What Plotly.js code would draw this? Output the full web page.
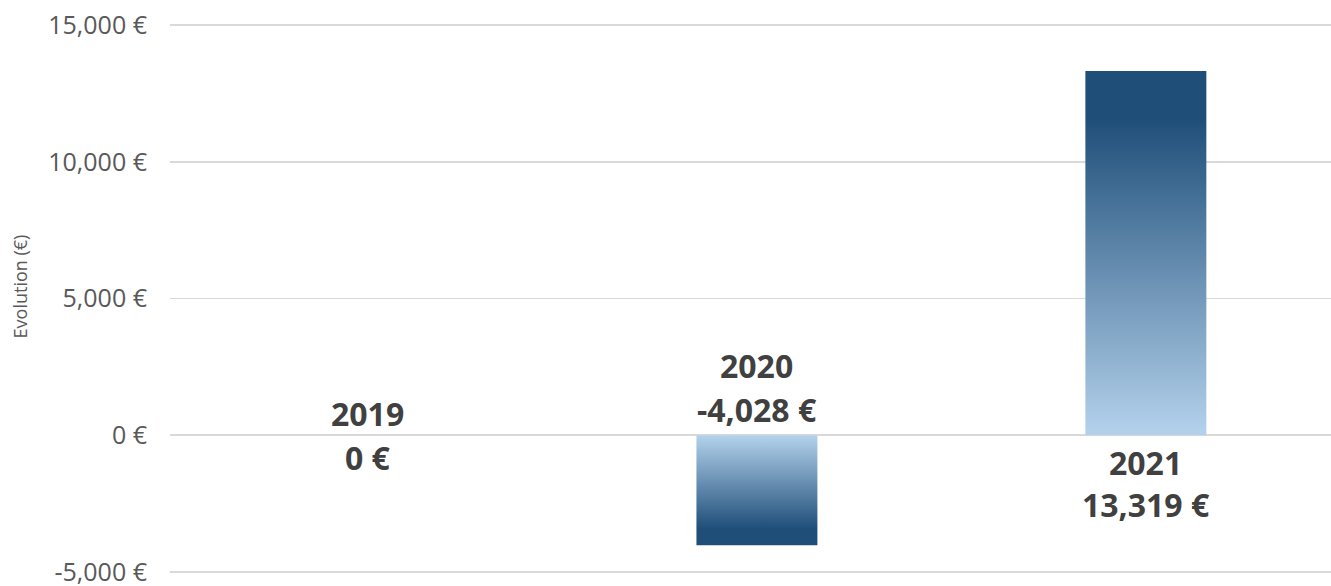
<!DOCTYPE html>
<html>
<head>
<meta charset="utf-8">
<script src="https://cdn.plot.ly/plotly-3.0.1.min.js"></script>
<style>
  html, body { margin: 0; padding: 0; background: #ffffff; }
  #chart { width: 1331px; height: 586px; }
</style>
</head>
<body>
<div id="chart"></div>
<script>
// ---- data ----
const years = ['2019', '2020', '2021'];
const values = [0, -4028, 13319];
const valueLabels = ['0 €', '-4,028 €', '13,319 €'];
const yTickVals = [-5000, 0, 5000, 10000, 15000];
const yTickText = ['-5,000 €', '0 €', '5,000 €', '10,000 €', '15,000 €'];
const yAxisTitle = 'Evolution (€)';

// ---- styles ----
const FONT = '"Open Sans", "Noto Sans", sans-serif';
const DARK = '#1F4E79';
const LIGHT = '#B4D2EC';

const trace = {
  type: 'bar',
  x: years,
  y: values,
  width: 0.311,
  marker: { color: DARK, line: { width: 0 } },
  hoverinfo: 'skip'
};

// label offsets (px, positive = up) depending on sign of value
function offsets(v) {
  if (v > 0) return [-27, -69];
  if (v < 0) return [70, 26];
  return [22, -22];
}

const annotations = [];
years.forEach((yr, i) => {
  const off = offsets(values[i]);
  const texts = [yr, valueLabels[i]];
  texts.forEach((txt, k) => {
    annotations.push({
      x: i, y: 0, xref: 'x', yref: 'y',
      text: '<b>' + txt + '</b>',
      showarrow: false,
      xanchor: 'center', yanchor: 'middle',
      yshift: off[k],
      font: { family: FONT, size: 32, color: '#404040' }
    });
  });
});

const layout = {
  width: 1331,
  height: 586,
  margin: { l: 170, r: 0, t: 24, b: 13, pad: 0 },
  paper_bgcolor: '#ffffff',
  plot_bgcolor: '#ffffff',
  showlegend: false,
  xaxis: {
    type: 'category',
    categoryorder: 'array',
    categoryarray: years,
    range: [-0.509, 2.476],
    showticklabels: false,
    showgrid: false,
    zeroline: false,
    showline: false,
    ticks: ''
  },
  yaxis: {
    range: [-5040, 15040],
    tickvals: yTickVals,
    ticktext: yTickText,
    tickfont: { family: FONT, size: 25, color: '#595959' },
    ticklabelstandoff: 22,
    ticklabeloverflow: 'allow',
    showgrid: true,
    gridcolor: '#D9D9D9',
    gridwidth: 1.6,
    zeroline: false,
    showline: false,
    ticks: '',
    title: {
      text: yAxisTitle,
      font: { family: FONT, size: 18, color: '#595959' },
      standoff: 15
    },
    automargin: false
  },
  annotations: annotations,
  hovermode: false
};

Plotly.newPlot('chart', [trace], layout, { displayModeBar: false, staticPlot: true }).then(gd => {
  const svg = gd.querySelector('.main-svg');
  let defs = svg.querySelector('defs');
  const NS = 'http://www.w3.org/2000/svg';
  function makeGrad(id, stops) {
    const g = document.createElementNS(NS, 'linearGradient');
    g.setAttribute('id', id);
    g.setAttribute('x1', '0'); g.setAttribute('y1', '0');
    g.setAttribute('x2', '0'); g.setAttribute('y2', '1');
    stops.forEach(s => {
      const st = document.createElementNS(NS, 'stop');
      st.setAttribute('offset', s[0]);
      st.setAttribute('stop-color', s[1]);
      g.appendChild(st);
    });
    defs.appendChild(g);
  }
  makeGrad('gradPos', [[0, DARK], [0.13, DARK], [1, LIGHT]]);
  makeGrad('gradNeg', [[0, LIGHT], [0.85, DARK], [1, DARK]]);
  const paths = gd.querySelectorAll('.barlayer .point path');
  paths.forEach((p, i) => {
    const v = values[i];
    p.style.fill = v >= 0 ? 'url(#gradPos)' : 'url(#gradNeg)';
  });
  // nudge the y-axis title up to sit where the reference has it
  const yt = gd.querySelector('.g-ytitle');
  if (yt) yt.setAttribute('transform', 'translate(0,-12)');
});
</script>
</body>
</html>
